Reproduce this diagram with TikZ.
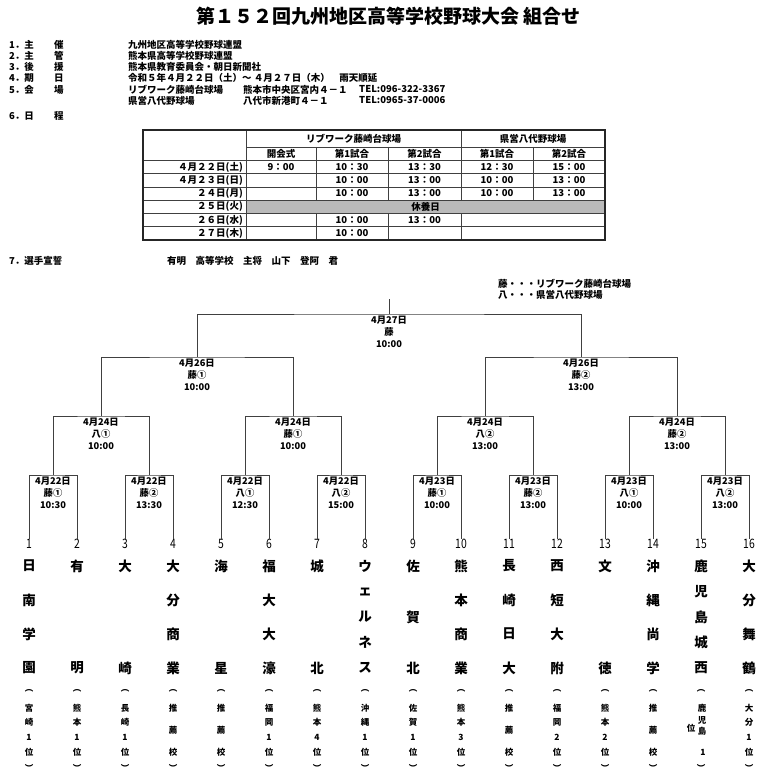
\documentclass[tikz,border=0pt]{standalone}
\usepackage{fontspec}
\setmainfont{Noto Sans CJK JP}
\newcommand{\fsz}[2]{\fontsize{#1}{#2}\selectfont}
\begin{document}
\begin{tikzpicture}[x=1pt,y=-1pt,
  txt/.style={inner sep=0pt,anchor=west,font=\fsz{9.5}{11}\bfseries},
  cell/.style={inner sep=0pt,font=\fsz{9.5}{11}\bfseries},
  lab/.style={inner sep=0pt,anchor=north,align=center,font=\fsz{9.3}{11.8}\bfseries},
  num/.style={inner sep=0pt,anchor=north,font=\fsz{13}{13}},
  school/.style={inner sep=0pt,font=\fsz{13.5}{13.5}\bfseries},
  small/.style={inner sep=0pt,font=\fsz{8.5}{8.5}\bfseries},
  br/.style={draw=black!75,line width=0.7pt},
  tl/.style={draw=black!75,line width=0.6pt}]
\useasboundingbox (0,0) rectangle (768,775);
% title
\node[inner sep=0pt,font=\fsz{19}{19}\bfseries] (title) at (388.5,16) {第１５２回九州地区高等学校野球大会 組合せ};
% header list
\node[txt] (h1a) at (9,45) {1．主}; \node[txt] (h1b) at (54,45) {催}; \node[txt] (h1c) at (128,45) {九州地区高等学校野球連盟};
\node[txt] (h2a) at (9,56) {2．主}; \node[txt] (h2b) at (54,56) {管}; \node[txt] (h2c) at (128,56) {熊本県高等学校野球連盟};
\node[txt] (h3a) at (9,67) {3．後}; \node[txt] (h3b) at (54,67) {援}; \node[txt] (h3c) at (128,67) {熊本県教育委員会・朝日新聞社};
\node[txt] (h4a) at (9,78) {4．期}; \node[txt] (h4b) at (54,78) {日}; \node[txt] (h4c) at (128,78) {令和５年４月２２日（土）～ ４月２７日（木）　雨天順延};
\node[txt] (h5a) at (9,89.5) {5．会}; \node[txt] (h5b) at (54,89.5) {場}; \node[txt] (h5c) at (128,89.5) {リブワーク藤崎台球場};
\node[txt] (h5d) at (243,89.5) {熊本市中央区宮内４－１}; \node[txt] (h5e) at (359,89.5) {TEL:096-322-3367};
\node[txt] (h6c) at (128,100.5) {県営八代野球場}; \node[txt] (h6d) at (243,100.5) {八代市新港町４－１}; \node[txt] (h6e) at (359,100.5) {TEL:0965-37-0006};
\node[txt] (h7a) at (9,116) {6．日}; \node[txt] (h7b) at (54,116) {程};
% table
\fill[black!27] (246,200.1) rectangle (605,213.4);
\foreach \yy in {160.3,173.6,186.9,200.1,213.4,226.7} \draw[tl] (143,\yy) -- (605,\yy);
\draw[tl] (246,147) -- (605,147);
\draw[tl] (246,130) -- (246,240);
\draw[tl] (461,130) -- (461,200.1) (461,213.4) -- (461,240);
\draw[tl] (316,147) -- (316,200.1) (316,213.4) -- (316,240);
\draw[tl] (388,147) -- (388,200.1) (388,213.4) -- (388,240);
\draw[tl] (533,147) -- (533,200.1);
\draw[draw=black!85,line width=1.3pt] (143,130) rectangle (605,240);
\node[cell] (v1) at (353.5,138.5) {リブワーク藤崎台球場};
\node[cell] (v2) at (533,138.5) {県営八代野球場};
\node[cell] (c1) at (281,153.6) {開会式};
\node[cell] (c2) at (352,153.6) {第1試合};
\node[cell] (c3) at (424.5,153.6) {第2試合};
\node[cell] (c4) at (497,153.6) {第1試合};
\node[cell] (c5) at (569,153.6) {第2試合};
\node[cell,anchor=east] (d1) at (243,167) {４月２２日(土)};
\node[cell,anchor=east] (d2) at (243,180.2) {４月２３日(日)};
\node[cell,anchor=east] (d3) at (243,193.5) {２４日(月)};
\node[cell,anchor=east] (d4) at (243,206.8) {２５日(火)};
\node[cell,anchor=east] (d5) at (243,220) {２６日(水)};
\node[cell,anchor=east] (d6) at (243,233.3) {２７日(木)};
\node[cell] (t11) at (281,167) {9：00};
\node[cell] (t12) at (352,167) {10：30};
\node[cell] (t13) at (424.5,167) {13：30};
\node[cell] (t14) at (497,167) {12：30};
\node[cell] (t15) at (569,167) {15：00};
\node[cell] (t22) at (352,180.2) {10：00};
\node[cell] (t23) at (424.5,180.2) {13：00};
\node[cell] (t24) at (497,180.2) {10：00};
\node[cell] (t25) at (569,180.2) {13：00};
\node[cell] (t32) at (352,193.5) {10：00};
\node[cell] (t33) at (424.5,193.5) {13：00};
\node[cell] (t34) at (497,193.5) {10：00};
\node[cell] (t35) at (569,193.5) {13：00};
\node[cell] (rest) at (425.5,206.8) {休養日};
\node[cell] (t52) at (352,220) {10：00};
\node[cell] (t53) at (424.5,220) {13：00};
\node[cell] (t62) at (352,233.3) {10：00};
% oath & legend
\node[txt] (s7a) at (9,261) {7．選手宣誓};
\node[txt] (s7b) at (167,261) {有明　高等学校　主将　山下　登阿　君};
\node[txt] (lg1) at (498,283.5) {藤・・・リブワーク藤崎台球場};
\node[txt] (lg2) at (498,294.5) {八・・・県営八代野球場};
% numbers
\foreach \i in {1,...,16} \node[num] (n\i) at ({29+48*(\i-1)},539) {\scalebox{0.8}[1]{\i}};
% bracket coordinates
\foreach \k in {1,...,8} \coordinate (a\k) at ({53+96*(\k-1)},475);
\foreach \j in {1,...,4} \coordinate (b\j) at ({101+192*(\j-1)},416);
\coordinate (q1) at (197,357); \coordinate (q2) at (581,357);
\coordinate (f) at (389,314); \coordinate (top) at (389,299);
\foreach \k [evaluate=\k as \l using {int(2*\k-1)}, evaluate=\k as \r using {int(2*\k)}] in {1,...,8}
  \draw[br] (n\l.north) |- (a\k) -| (n\r.north);
\foreach \j [evaluate=\j as \l using {int(2*\j-1)}, evaluate=\j as \r using {int(2*\j)}] in {1,...,4}
  \draw[br] (a\l) |- (b\j) -| (a\r);
\draw[br] (b1) |- (q1) -| (b2);
\draw[br] (b3) |- (q2) -| (b4);
\draw[br] (q1) |- (f) -| (q2);
\draw[br] (f) -- (top);
% match labels
\foreach \k/\t in {1/{4月22日\\藤①\\10:30},2/{4月22日\\藤②\\13:30},3/{4月22日\\八①\\12:30},4/{4月22日\\八②\\15:00},5/{4月23日\\藤①\\10:00},6/{4月23日\\藤②\\13:00},7/{4月23日\\八①\\10:00},8/{4月23日\\八②\\13:00}}
  \node[lab] (la\k) at ({53+96*(\k-1)},477) {\t};
\foreach \j/\t in {1/{4月24日\\八①\\10:00},2/{4月24日\\藤①\\10:00},3/{4月24日\\八②\\13:00},4/{4月24日\\藤②\\13:00}}
  \node[lab] (lb\j) at ({101+192*(\j-1)},418) {\t};
\node[lab] (lq1) at (197,359) {4月26日\\藤①\\10:00};
\node[lab] (lq2) at (581,359) {4月26日\\藤②\\13:00};
\node[lab] (lf) at (389,316) {4月27日\\藤\\10:00};
% school names
\foreach \i/\n/\chars in {1/4/{日,南,学,園},2/2/{有,明},3/2/{大,崎},4/4/{大,分,商,業},5/2/{海,星},6/4/{福,大,大,濠},7/2/{城,北},8/5/{ウ,ェ,ル,ネ,ス},9/3/{佐,賀,北},10/4/{熊,本,商,業},11/4/{長,崎,日,大},12/4/{西,短,大,附},13/2/{文,徳},14/4/{沖,縄,尚,学},15/5/{鹿,児,島,城,西},16/4/{大,分,舞,鶴}}{
  \foreach \c [count=\k] in \chars
    \node[school] (s\i-\k) at ({29+48*(\i-1)},{566+(\k-1)*102/(\n-1)}) {\c};
}
% parentheses
\foreach \i in {1,...,16}{
  \node[small] (po\i) at ({29+48*(\i-1)},691) {︵};
  \node[small] (pc\i) at ({29+48*(\i-1)},768) {︶};
}
\foreach \i/\n/\chars in {1/4/{宮,崎,1,位},2/4/{熊,本,1,位},3/4/{長,崎,1,位},4/3/{推,薦,校},5/3/{推,薦,校},6/4/{福,岡,1,位},7/4/{熊,本,4,位},8/4/{沖,縄,1,位},9/4/{佐,賀,1,位},10/4/{熊,本,3,位},11/3/{推,薦,校},12/4/{福,岡,2,位},13/4/{熊,本,2,位},14/3/{推,薦,校},16/4/{大,分,1,位}}{
  \foreach \c [count=\k] in \chars
    \node[small] (p\i-\k) at ({29+48*(\i-1)},{708+(\k-1)*44/(\n-1)}) {\c};
}
\node[small] (p15-1) at (702,708) {鹿};
\node[small] (p15-2) at (702,720.5) {児};
\node[small] (p15-3) at (702,731) {島};
\node[small] (p15-4) at (691,728) {位};
\node[small] (p15-5) at (703,752) {1};
\end{tikzpicture}
\end{document}
